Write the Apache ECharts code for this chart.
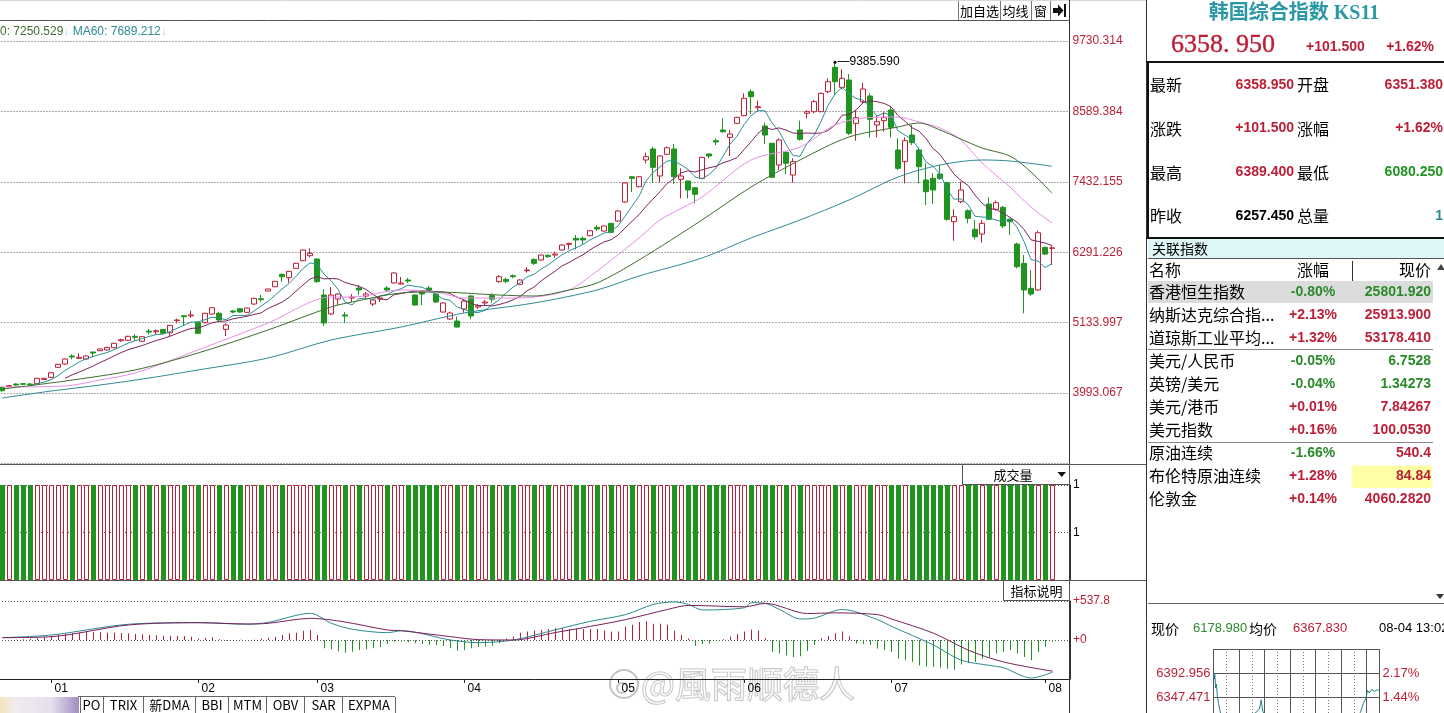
<!DOCTYPE html>
<html>
<head>
<meta charset="utf-8">
<title>韩国综合指数 KS11</title>
<script src="https://cdn.jsdelivr.net/npm/echarts@6/dist/echarts.min.js"></script>
<style>
html,body{margin:0;padding:0;background:#fff;overflow:hidden;}
#chart{width:1444px;height:713px;}
</style>
</head>
<body>
<div id="chart"></div>
<script>
// ---------------- DATA ----------------
const monthLabels = ['12','01','02','03','04','05','06','07','08'];
const monthDays   = [7,21,17,21,22,18,21,22,2];

const opens = [4086,4096,4139,4145,4140,4150,4215,4248,4412,4465,
4596,4558,4547,4661,4682,4694,4731,4845,4851,4917,
4836,5002,4991,5030,4975,5172,5253,5250,5145,5139,
5280,5292,5031,5329,5367,5308,5443,5530,5655,5725,
5927,5872,6025,6149,6231,6177,5590,5280,5525,5264,
5541,5704,5574,5443,5525,5704,5786,5769,5835,5590,
5639,5704,5606,5313,5199,5166,5362,5574,5395,5460,
5580,5808,5846,5905,5765,5987,6171,6161,6237,6242,
6324,6416,6514,6514,6557,6694,6633,6758,6796,7106,
7518,7355,7791,7970,7530,7883,7970,7476,7448,7339,
7492,7889,8105,8280,8160,8388,8513,8904,8643,8345,
8063,7709,7916,7546,8280,8552,8578,8578,8904,9301,
8975,9095,8388,8741,8834,8361,8432,8606,7954,7763,
8198,7954,7465,7492,7562,7421,6785,7111,6964,6661,
6584,7073,6987,7019,6824,6421,6106,5699,5672,6367,
6351.38];
const closes = [4030,4113,4123,4135,4130,4232,4232,4324,4460,4547,
4580,4574,4596,4645,4710,4737,4803,4862,4917,4900,
4911,4986,5008,4965,5096,5183,5237,5265,4966,5292,
5383,5183,5101,5313,5313,5378,5536,5514,5688,5813,
5888,5976,6107,6324,6269,5808,5134,5590,5606,5248,
5557,5672,5606,5509,5541,5672,5949,5786,5818,5427,
5606,5672,5476,5460,5297,5068,5492,5248,5416,5476,
5522,5889,5813,5888,5835,5998,6106,6242,6215,6259,
6405,6432,6487,6487,6638,6666,6715,6612,6959,7416,
7492,7518,7845,7671,7856,7991,7518,7530,7302,7232,
7834,7856,8084,8252,8214,8486,8796,8823,8660,8198,
7509,8117,7737,7763,8128,8578,8741,8877,9067,9067,
9122,8226,8480,8948,8454,8415,8486,8323,7655,8105,
8073,7682,7274,7302,7492,6824,6867,7302,6840,6540,
6759,6824,7095,6715,6785,6051,5672,5606,6605,6257.45,
6358.95];
const lows = [4014,4090,4110,4130,4115,4145,4210,4240,4405,4455,
4543,4550,4540,4574,4678,4690,4725,4824,4845,4846,
4830,4950,4950,4960,4910,5128,5085,5215,4955,5130,
5270,5155,4922,5292,5305,5300,5435,5480,5650,5718,
5808,5790,6018,6140,6204,5790,5085,5264,5427,5134,
5476,5590,5541,5411,5476,5655,5775,5760,5786,5420,
5427,5639,5465,5305,5183,5063,5302,5195,5362,5427,
5465,5791,5780,5862,5760,5954,6079,6150,6198,6198,
6315,6335,6335,6421,6550,6633,6625,6600,6785,7095,
7269,7345,7737,7420,7420,7872,7399,7166,7166,7085,
7480,7818,8035,8235,7856,8380,8505,8540,8578,8051,
7500,7628,7562,7420,8105,8470,8552,8570,8878,8850,
8943,8198,8105,8715,8160,8160,8252,8160,7628,7410,
8035,7410,7057,7073,7465,6801,6475,7085,6759,6498,
6442,6813,6964,6677,6568,6025,5292,5574,5660,6242,
6080.25];
const highs = [4096,4120,4150,4150,4158,4240,4240,4335,4470,4555,
4624,4640,4605,4666,4715,4745,4810,4878,4925,4950,
4918,5035,5030,5035,5100,5204,5258,5334,5160,5300,
5390,5318,5130,5346,5375,5385,5545,5590,5695,5820,
5943,5985,6115,6330,6352,6185,5688,5720,5623,5313,
5606,5753,5639,5530,5557,5737,5960,5884,5867,5600,
5655,5737,5615,5470,5318,5240,5520,5590,5443,5509,
5618,5916,5872,5927,5845,6041,6188,6250,6253,6296,
6415,6443,6568,6541,6645,6731,6720,6765,6970,7425,
7530,7525,7910,8008,7872,8008,8051,7655,7453,7345,
7845,7900,8144,8470,8280,8495,8878,8943,8758,8399,
8070,8144,7926,7818,8432,8606,8769,8890,9122,9385.59,
9269,9192,8606,9051,8878,8524,8578,8660,8144,8160,
8361,8000,7736,7573,7709,7437,6987,7437,6987,6813,
6813,7182,7128,7041,6830,6442,6242,5998,6638,6378,
6389.4];
const volumes = [1,1,1,1,1,1,1,1,1,1, 1,1,1,1,1,1,1,1,1,1, 1,1,1,1,1,1,1,1,1,1,
1,1,1,1,1,1,1,1,1,1, 1,1,1,1,1,1,1,1,1,1, 1,1,1,1,1,1,1,1,1,1,
1,1,1,1,1,1,1,1,1,1, 1,1,1,1,1,1,1,1,1,1, 1,1,1,1,1,1,1,1,1,1,
1,1,1,1,1,1,1,1,1,1, 1,1,1,1,1,1,1,1,1,1, 1,1,1,1,1,1,1,1,1,1,
1,1,1,1,1,1,1,1,1,1, 1,1,1,1,1,1,1,1,1,1, 1,1,1,1,1,1,1,1,1,1, 1];

// moving averages as [dayIndex, value]
const ma20Points = [[0,4091],[9,4107],[14,4205],[19,4319],[28,4694],[38,5134],[47,5557],[50,5557],[57,5672],[62,5639],[66,5541],[71,5541],[76,5557],[81,5672],[85,5981],[91,6519],[94,6813],[100,7188],[107,7791],[114,8003],[119,8361],[123,8475],[128,8491],[131,8410],[134,8312],[137,8117],[140,7742],[144,7350],[147,7024],[150,6764]];
const ma30Points = [[0,4058],[9,4188],[19,4368],[28,4645],[38,5020],[47,5395],[50,5476],[57,5623],[62,5639],[71,5590],[76,5574],[81,5672],[85,5786],[91,6161],[100,6813],[107,7350],[114,7791],[121,8166],[128,8329],[131,8394],[134,8280],[140,7986],[144,7856],[147,7595],[150,7250.529]];
const ma60Points = [[0,3911],[7,4025],[14,4123],[21,4237],[28,4368],[38,4563],[47,4856],[57,5068],[66,5297],[76,5460],[85,5672],[91,5900],[100,6193],[107,6519],[114,6813],[121,7139],[128,7514],[134,7709],[140,7791],[144,7774],[150,7689.212]];

// MACD
const macdHist = [0,0,5,9,14,23,37,55,69,83,
92,101,106,110,106,101,101,97,92,83,
78,69,64,60,60,55,55,46,18,32,
37,9,-9,0,5,0,5,18,32,46,
69,92,101,129,138,69,-115,-129,-156,-175,
-161,-138,-129,-115,-101,-55,-23,-23,-28,-46,
-55,-64,-69,-83,-115,-147,-138,-115,-98,-90,
-80,-40,20,47,100,117,131,140,150,164,
164,150,150,150,150,150,131,117,117,187,
210,248,257,224,224,210,126,70,20,-84,
-56,-47,-10,9,47,84,117,140,131,23,
-164,-187,-210,-234,-224,-150,-70,23,56,94,
117,50,-47,-56,-70,-117,-140,-164,-257,-280,
-304,-351,-365,-374,-384,-398,-411,-337,-318,-304,
-257,-234,-187,-164,-140,-187,-234,-280,-164,-94,
-23];
const difPoints = [[0,32],[7,69],[18,217],[28,239],[35,217],[38,244],[44,368],[47,230],[50,148],[55,101],[57,128],[64,0],[68,-37],[73,0],[79,141],[84,258],[89,350],[93,491],[96,525],[98,491],[100,414],[106,444],[107,515],[109,505],[111,421],[114,290],[116,303],[120,421],[125,281],[127,188],[133,-69],[137,-280],[141,-350],[143,-383],[147,-524],[150,-444]];
const deaPoints = [[0,32],[7,46],[18,207],[28,239],[35,221],[38,230],[44,299],[47,276],[50,230],[55,138],[57,128],[64,46],[68,5],[73,0],[79,103],[84,188],[89,281],[95,421],[98,477],[106,458],[109,505],[115,365],[119,374],[125,350],[127,290],[133,94],[138,-141],[143,-303],[150,-430]];

// tick labels
const priceTickLabels = ['3993.067','5133.997','6291.226','7432.155','8589.384','9730.314'];
const volTickValues = [0.5, 1];
const volTickLabels = ['1', '1'];
const macdTop = 537.8;

// quote panel
const quoteName = '韩国综合指数', quoteCode = 'KS11';
const lastPrice = 6358.95, changeAbs = 101.5, changePct = 1.62;
const openPrice = 6351.38, highPrice = 6389.4, lowPrice = 6080.25, prevClose = 6257.45, totalVolume = 1;
const relatedNames = ['香港恒生指数','纳斯达克综合指...','道琼斯工业平均...','美元/人民币','英镑/美元','美元/港币','美元指数','原油连续','布伦特原油连续','伦敦金'];
const relatedChanges = [-0.80, 2.13, 1.32, -0.05, -0.04, 0.01, 0.16, -1.66, 1.28, 0.14];
const relatedPrices = ['25801.920','25913.900','53178.410','6.7528','1.34273','7.84267','100.0530','540.4','84.84','4060.2820'];
const relatedPriceUp = [false, true, true, false, false, true, true, true, true, true];

// intraday mini chart
const intradayPrice = 6178.98, intradayAvg = 6367.83, intradayTime = '08-04 13:02';
const miniTickLabels = ['6347.471', '6392.956'];
const intradayPoints = [[0,6396],[2,6382],[3,6390],[5,6365],[7,6372],[9,6350],[12,6335],[15,6322],[20,6305],[30,6290],[45,6296],[60,6302],[80,6310],[100,6318],[108,6325],[112,6342],[116,6320],[130,6300],[160,6285],[200,6290],[240,6280],[280,6292],[320,6300],[345,6318],[352,6335],[358,6345],[362,6360],[366,6355],[372,6362],[378,6358],[385,6361],[390,6360]];

// ---------------- BUILD ----------------
const RED = '#bd1f36', GREEN = '#1f941f', GREEN_TXT = '#2a8a2a', TEAL = '#2a8a92';
const FONT_NUM = '"Liberation Sans", Arial, sans-serif';
const FONT_CN = '"Noto Sans CJK SC", "Liberation Sans", sans-serif';

const categories = [];
monthLabels.forEach((m, k) => { for (let d = 1; d <= monthDays[k]; d++) categories.push(m + '/' + d); });
const xCats = categories.concat([' ', '  ']);
const isMonthStart = (idx) => idx > 0 && idx < categories.length && categories[idx].endsWith('/1');

const candleData = opens.map((o, i) => [o, closes[i], lows[i], highs[i]]);
function movingAvg(n) {
  return closes.map((c, i) => {
    if (i < n - 1) return '-';
    let s = 0; for (let k = i - n + 1; k <= i; k++) s += closes[k];
    return +(s / n).toFixed(3);
  });
}
const ma5 = movingAvg(5), ma10 = movingAvg(10);

const volData = volumes.map((v, i) => ({
  value: v,
  itemStyle: closes[i] >= opens[i] ? {color: '#ffffff', borderColor: RED, borderWidth: 1} : {color: GREEN}
}));
const histData = macdHist.map(v => ({value: v, itemStyle: {color: v >= 0 ? RED : GREEN}}));

const pBottom = parseFloat(priceTickLabels[0]);
const pTop = parseFloat(priceTickLabels[priceTickLabels.length - 1]);
const pStep = (pTop - pBottom) / (priceTickLabels.length - 1);
const priceMin = pBottom - pStep;
const priceMax = pTop + pStep * 21 / 70.4;

function nearestLabel(labels, v, tol) {
  for (const s of labels) if (Math.abs(parseFloat(s) - v) < tol) return s;
  return '';
}

const miniLo = parseFloat(miniTickLabels[0]), miniHi = parseFloat(miniTickLabels[1]);
const miniStep = miniHi - miniLo;

let peakIdx = 0;
highs.forEach((h, i) => { if (h > highs[peakIdx]) peakIdx = i; });

// ---------------- GRAPHICS ----------------
const G = [];
function line(x1, y1, x2, y2, color, w, dash) {
  G.push({type: 'line', silent: true, shape: {x1, y1, x2, y2}, style: {stroke: color || '#333', lineWidth: w || 1, lineDash: dash || null}});
}
function rect(x, y, w, h, fill, stroke) {
  G.push({type: 'rect', silent: true, shape: {x, y, width: w, height: h}, style: {fill: fill || 'none', stroke: stroke || null, lineWidth: 1}});
}
function poly(points, fill) {
  G.push({type: 'polygon', silent: true, shape: {points}, style: {fill}});
}
function text(x, y, s, font, fill, align, extra) {
  G.push({type: 'text', silent: true, x, y, style: Object.assign({
    text: s, font: font, fill: fill || '#000',
    align: align || 'left', textAlign: align || 'left',
    verticalAlign: 'middle', textVerticalAlign: 'middle'
  }, extra || {})});
}
const fmtPct = v => (v >= 0 ? '+' : '') + v.toFixed(2) + '%';
const colorVs = v => v > prevClose ? RED : (v < prevClose ? GREEN : '#000');

// frame / toolbar
line(0, 0.5, 1146, 0.5, '#d8d8d8');
line(0, 20.5, 1069, 20.5, '#555');
[958.5, 1000.5, 1031.5, 1050.5].forEach(x => line(x, 1, x, 20, '#777'));
text(979.5, 11, '加自选', '13px ' + FONT_CN, '#000', 'center');
text(1015.5, 11, '均线', '13px ' + FONT_CN, '#000', 'center');
text(1040.5, 11, '窗', '13px ' + FONT_CN, '#000', 'center');
poly([[1053,8],[1058,8],[1058,4.5],[1063.5,10.5],[1058,16.5],[1058,13],[1053,13]], '#111');
rect(1064, 4, 2, 13, '#111');

// legend (MA values)
G.push({type: 'text', silent: true, x: -24.7, y: 31.5, style: {
  text: '{g|MA30: ' + ma30Points[ma30Points.length-1][1].toFixed(3) + '}{a|↓} {t|MA60: ' + ma60Points[ma60Points.length-1][1].toFixed(3) + '}{a|↓}',
  font: '12px ' + FONT_NUM, align: 'left', textAlign: 'left', verticalAlign: 'middle', textVerticalAlign: 'middle',
  rich: {
    g: {fill: '#3d6e2d', font: '12px ' + FONT_NUM},
    a: {fill: '#9fe0e6', font: '12px ' + FONT_NUM},
    t: {fill: '#2e8a96', font: '12px ' + FONT_NUM}
  }
}});

// vertical frame lines and panel separators
line(1069.5, 0, 1069.5, 713, '#333');
line(1146.5, 0, 1146.5, 713, '#333');
line(0, 464.5, 1146, 464.5, '#555');
line(0, 580.5, 1146, 580.5, '#555');
rect(962.5, 464.5, 107, 20, '#fff', '#555');
text(1013, 475, '成交量', '13px ' + FONT_CN, '#000', 'center');
poly([[1057.5,472],[1066,472],[1061.75,477]], '#111');
rect(1003.5, 580.5, 66, 20, '#fff', '#555');
text(1036.5, 591, '指标说明', '13px ' + FONT_CN, '#000', 'center');

// bottom tabs
G.push({type: 'rect', silent: true, shape: {x: 0, y: 697, width: 79, height: 16}, style: {fill: {type: 'linear', x: 0, y: 0, x2: 1, y2: 0, colorStops: [
  {offset: 0, color: '#f4e3bd'}, {offset: 0.2, color: '#f2ecef'}, {offset: 0.65, color: '#e6dfec'}, {offset: 1, color: '#a08cc4'}]}}});
line(78, 696.5, 395, 696.5, '#666');
[80.5, 103.5, 143.5, 195.5, 228.5, 266.5, 304.5, 342.5, 395.5].forEach(x => line(x, 697, x, 713, '#666'));
const tabs = [['PO',91.5],['TRIX',123.5],['新DMA',169.5],['BBI',212],['MTM',247.5],['OBV',285.5],['SAR',323.5],['EXPMA',369]];
tabs.forEach(t => text(t[1], 705.5, t[0], '13px ' + FONT_CN, '#000', 'center'));

// watermark
G.push({type: 'circle', silent: true, shape: {cx: 624, cy: 684, r: 14}, style: {fill: 'rgba(255,255,255,0.35)', stroke: '#c4c4c4', lineWidth: 2}});
G.push({type: 'circle', silent: true, shape: {cx: 622, cy: 688, r: 5}, style: {fill: 'none', stroke: '#c4c4c4', lineWidth: 2}});
text(641, 684, '@風雨顺德人', '36px ' + FONT_CN, 'rgba(255,255,255,0.55)', 'left', {stroke: '#b8b8b8', lineWidth: 1.2});

// right panel: title and price
text(1294, 13.5, quoteName + ' ' + quoteCode, 'bold 20px "Liberation Serif", "Noto Sans CJK SC", serif', '#2a98a6', 'center');
text(1171, 45, lastPrice.toFixed(3).replace('.', '. '), '26px "Liberation Serif", serif', RED, 'left', {stroke: RED, lineWidth: 0.4});
text(1306, 47.5, '+' + changeAbs.toFixed(3), 'bold 14px ' + FONT_NUM, RED, 'left');
text(1434, 47.5, fmtPct(changePct), 'bold 14px ' + FONT_NUM, RED, 'right');
line(1146, 62, 1444, 62, '#111', 2);
line(1148, 62, 1148, 238, '#111', 2);
line(1146, 238, 1444, 238, '#111', 2);
const quoteRows = [
  ['最新', lastPrice.toFixed(3), colorVs(lastPrice), '开盘', openPrice.toFixed(3), colorVs(openPrice)],
  ['涨跌', '+' + changeAbs.toFixed(3), RED, '涨幅', fmtPct(changePct), RED],
  ['最高', highPrice.toFixed(3), colorVs(highPrice), '最低', lowPrice.toFixed(3), colorVs(lowPrice)],
  ['昨收', prevClose.toFixed(3), '#000', '总量', String(totalVolume), '#2a8a92']
];
const quoteY = [85, 128.5, 172.5, 216];
quoteRows.forEach((r, k) => {
  const y = quoteY[k];
  text(1150, y, r[0], '16px ' + FONT_CN, '#000', 'left');
  text(1294, y, r[1], 'bold 14px ' + FONT_NUM, r[2], 'right');
  text(1297, y, r[3], '16px ' + FONT_CN, '#000', 'left');
  text(1443, y, r[4], 'bold 14px ' + FONT_NUM, r[5], 'right');
});

// related indices
rect(1148, 239, 296, 19, '#dff6f6');
text(1152, 248.5, '关联指数', '14px ' + FONT_CN, '#000', 'left');
line(1148, 258.5, 1444, 258.5, '#555');
text(1149, 270, '名称', '16px ' + FONT_CN, '#000', 'left');
text(1313, 270, '涨幅', '16px ' + FONT_CN, '#000', 'center');
text(1431, 270, '现价', '16px ' + FONT_CN, '#000', 'right');
line(1352.5, 261, 1352.5, 281, '#333');
poly([[1437,270],[1445,270],[1441,264]], '#444');
rect(1148, 281, 285, 22, '#dcdcdc');
rect(1352, 465.5, 80, 22.5, '#ffffa6');
line(1148, 349.5, 1433, 349.5, '#888');
line(1148, 442.5, 1433, 442.5, '#888');
relatedNames.forEach((n, k) => {
  const y = 292.3 + k * 23;
  const c = relatedChanges[k];
  text(1149, y, n, '16px ' + FONT_CN, '#000', 'left');
  text(1313, y, fmtPct(c), 'bold 14px ' + FONT_NUM, c >= 0 ? RED : GREEN_TXT, 'center');
  text(1431, y, relatedPrices[k], 'bold 14px ' + FONT_NUM, relatedPriceUp[k] ? RED : GREEN_TXT, 'right');
});

// intraday header
line(1148, 603.5, 1444, 603.5, '#666');
poly([[1436,594],[1444,594],[1440,599]], '#333');
text(1151, 628.5, '现价', '14px ' + FONT_CN, '#000', 'left');
text(1193, 628.5, intradayPrice.toFixed(3), '13px ' + FONT_NUM, GREEN_TXT, 'left');
text(1249, 628.5, '均价', '14px ' + FONT_CN, '#000', 'left');
text(1293, 628.5, intradayAvg.toFixed(3), '13px ' + FONT_NUM, RED, 'left');
text(1379, 628.5, intradayTime, '13px ' + FONT_NUM, '#000', 'left');

// ---------------- OPTION ----------------
const hiddenCat = (gi) => ({
  type: 'category', gridIndex: gi, data: xCats, boundaryGap: true,
  axisLine: {show: false, onZero: false}, axisTick: {show: false}, axisLabel: {show: false}, splitLine: {show: false}
});
const dotted = {color: '#555', type: [1, 2], width: 1};

const option = {
  animation: false,
  backgroundColor: '#ffffff',
  textStyle: {fontFamily: FONT_NUM},
  grid: [
    {left: -1.5, top: 20, width: 1071, height: 443.4, containLabel: false, outerBoundsMode: 'none'},
    {left: -1, top: 485, width: 1071, height: 95, containLabel: false, outerBoundsMode: 'none'},
    {left: -1, top: 601, width: 1071, height: 78, containLabel: false, outerBoundsMode: 'none'},
    {left: 1213.5, top: 649, width: 166, height: 72, containLabel: false, outerBoundsMode: 'none'}
  ],
  xAxis: [
    hiddenCat(0),
    hiddenCat(1),
    {
      type: 'category', gridIndex: 2, data: xCats, boundaryGap: true,
      axisLine: {show: true, onZero: false, lineStyle: {color: '#222'}},
      axisTick: {show: true, inside: false, length: 4, alignWithLabel: true, interval: isMonthStart, lineStyle: {color: '#222'}},
      axisLabel: {show: true, interval: isMonthStart, formatter: v => v.split('/')[0], color: '#000', fontSize: 12, align: 'left', margin: 4, padding: [0, 0, 0, 3]},
      splitLine: {show: false}
    },
    {type: 'value', gridIndex: 3, min: 0, max: 390, interval: 30, position: 'bottom',
      axisLine: {show: false}, axisTick: {show: false}, axisLabel: {show: false},
      splitLine: {show: true, lineStyle: {color: '#777', type: [1, 2], width: 1}}},
    {type: 'value', gridIndex: 3, min: 0, max: 390, interval: 60, position: 'top',
      axisLine: {show: false}, axisTick: {show: false}, axisLabel: {show: false},
      splitLine: {show: true, lineStyle: {color: '#555', width: 1}}}
  ],
  yAxis: [
    {type: 'value', gridIndex: 0, position: 'right', min: priceMin, max: priceMax, interval: pStep, scale: false,
      axisLine: {show: true, lineStyle: {color: '#333'}}, axisTick: {show: false},
      axisLabel: {show: true, margin: 3, color: RED, fontSize: 12, align: 'left', formatter: v => nearestLabel(priceTickLabels, v, 30)},
      splitLine: {show: true, lineStyle: dotted}},
    {type: 'value', gridIndex: 1, position: 'right', min: 0, max: 1, interval: 0.5,
      axisLine: {show: true, lineStyle: {color: '#333'}}, axisTick: {show: false},
      axisLabel: {show: true, margin: 3, color: '#000', fontSize: 12, align: 'left',
        formatter: v => { const k = volTickValues.findIndex(t => Math.abs(t - v) < 1e-6); return k >= 0 ? volTickLabels[k] : ''; }},
      splitLine: {show: true, lineStyle: dotted}},
    {type: 'value', gridIndex: 2, position: 'right', min: -macdTop, max: macdTop, interval: macdTop,
      axisLine: {show: true, lineStyle: {color: '#333'}}, axisTick: {show: false},
      axisLabel: {show: true, margin: 3, color: RED, fontSize: 12, align: 'left',
        formatter: v => v >= -1e-6 ? '+' + (Math.abs(v) < 1e-6 ? '0' : String(+v.toFixed(1))) : ''},
      splitLine: {show: true, lineStyle: dotted}},
    {type: 'value', gridIndex: 3, position: 'left', min: miniLo - miniStep, max: miniHi + miniStep, interval: miniStep,
      axisLine: {show: false}, axisTick: {show: false},
      axisLabel: {show: true, margin: 3, color: RED, fontSize: 13, formatter: v => nearestLabel(miniTickLabels, v, 1)},
      splitLine: {show: true, lineStyle: {color: '#555', width: 1}}},
    {type: 'value', gridIndex: 3, position: 'right', min: miniLo - miniStep, max: miniHi + miniStep, interval: miniStep,
      axisLine: {show: false}, axisTick: {show: false},
      axisLabel: {show: true, margin: 3, color: RED, fontSize: 13,
        formatter: v => nearestLabel(miniTickLabels, v, 1) ? ((v / prevClose - 1) * 100).toFixed(2) + '%' : ''},
      splitLine: {show: false}}
  ],
  series: [
    {type: 'candlestick', name: 'K', xAxisIndex: 0, yAxisIndex: 0, data: candleData, barWidth: 5, silent: true,
      itemStyle: {color: '#ffffff', color0: GREEN, borderColor: RED, borderColor0: GREEN, borderWidth: 1},
      markPoint: {
        symbol: 'circle', symbolSize: 3, silent: true,
        itemStyle: {color: '#000'},
        label: {show: true, position: 'right', distance: 1, color: '#000', fontSize: 12, fontFamily: FONT_NUM,
          formatter: '—' + highs[peakIdx].toFixed(3)},
        data: [{coord: [peakIdx, highs[peakIdx]]}]
      }},
    {type: 'line', name: 'MA5', xAxisIndex: 0, yAxisIndex: 0, data: ma5, symbol: 'none', silent: true,
      lineStyle: {width: 1, color: '#2b9096'}},
    {type: 'line', name: 'MA10', xAxisIndex: 0, yAxisIndex: 0, data: ma10, symbol: 'none', silent: true,
      lineStyle: {width: 1, color: '#7d2660'}},
    {type: 'line', name: 'MA20', xAxisIndex: 0, yAxisIndex: 0, data: ma20Points, symbol: 'none', smooth: 0.3, silent: true,
      lineStyle: {width: 1, color: '#e88ee6'}},
    {type: 'line', name: 'MA30', xAxisIndex: 0, yAxisIndex: 0, data: ma30Points, symbol: 'none', smooth: 0.3, silent: true,
      lineStyle: {width: 1, color: '#3d6e2d'}},
    {type: 'line', name: 'MA60', xAxisIndex: 0, yAxisIndex: 0, data: ma60Points, symbol: 'none', smooth: 0.3, silent: true,
      lineStyle: {width: 1, color: '#2e8a96'}},
    {type: 'bar', name: 'VOL', xAxisIndex: 1, yAxisIndex: 1, data: volData, barWidth: 5, silent: true},
    {type: 'bar', name: 'MACD', xAxisIndex: 2, yAxisIndex: 2, data: histData, barWidth: 1, silent: true},
    {type: 'line', name: 'DIF', xAxisIndex: 2, yAxisIndex: 2, data: difPoints, symbol: 'none', smooth: 0.3, silent: true,
      lineStyle: {width: 1, color: '#2a8a8e'}},
    {type: 'line', name: 'DEA', xAxisIndex: 2, yAxisIndex: 2, data: deaPoints, symbol: 'none', smooth: 0.3, silent: true,
      lineStyle: {width: 1, color: '#7a1f5c'}},
    {type: 'line', name: '分时', xAxisIndex: 3, yAxisIndex: 3, data: intradayPoints, symbol: 'none', silent: true, clip: true,
      lineStyle: {width: 1, color: '#1f7f86'}}
  ],
  graphic: {elements: G}
};

const chart = echarts.init(document.getElementById('chart'), null, {renderer: 'canvas', width: 1444, height: 713});
chart.setOption(option);
</script>
</body>
</html>
